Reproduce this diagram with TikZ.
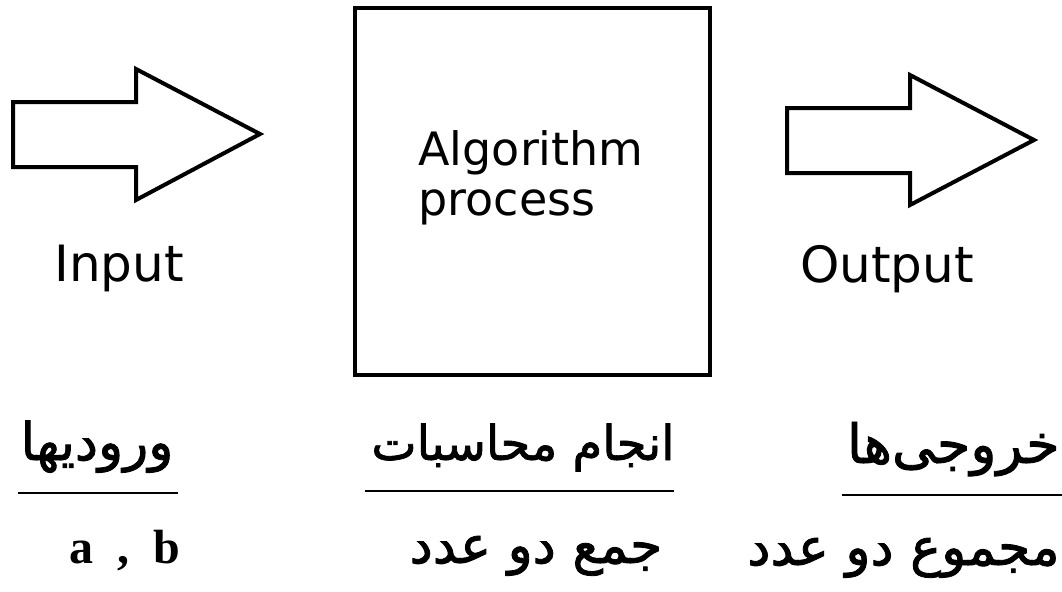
\documentclass[tikz,border=0pt]{standalone}
\usepackage{fontspec}
\setmainfont{DejaVu Sans}
\newfontfamily\arabicfont[Script=Arabic,FakeBold=1.6]{DejaVu Sans}
\newfontfamily\serifbold{Liberation Serif}
\TeXXeTstate=1

\tikzset{
  bigarrow/.style={draw=black, line width=2pt, line join=miter, fill=white},
  procbox/.style={draw=black, line width=2pt, minimum width=177.5pt, minimum height=183.5pt, inner sep=0pt},
  label/.style={font=\fontsize{25}{30}\selectfont, inner sep=0pt, anchor=base},
  boxtext/.style={font=\fontsize{23}{28}\selectfont, inner sep=0pt, anchor=base west},
  fa/.style={font=\fontsize{#1}{30}\selectfont\arabicfont, inner sep=0pt, anchor=base},
  fa/.default=26,
  rulebar/.style={draw=black, line width=1pt},
}

\begin{document}
\begin{tikzpicture}[x=0.5pt, y=-0.5pt]
  \useasboundingbox (0,0) rectangle (1062,591);

  % input arrow
  \draw[bigarrow] (13,102) -- (136,102) -- (136,69) -- (260,134)
    -- (136,200) -- (136,167) -- (13,167) -- cycle;
  \node[label] (inlbl) at (119,281) {Input};

  % process box
  \node[procbox] (proc) at (532.5,191.5) {};
  \node[boxtext] (alg1) at (418,165) {Algorithm};
  \node[boxtext] (alg2) at (418,215) {process};

  % output arrow
  \draw[bigarrow] (787,108) -- (910,108) -- (910,75) -- (1034,140)
    -- (910,205) -- (910,173) -- (787,173) -- cycle;
  \node[label] (outlbl) at (887,282) {Output};

  % captions under each stage
  \node[fa=26] (fain) at (97,460) {\beginR ورودیها\endR};
  \draw[rulebar] (18,493) -- (178,493);
  \node[label, font=\fontsize{24}{28}\selectfont\serifbold\bfseries] (ab) at (125,563) {a \ , \ b};

  \node[fa=24] (faproc) at (523,460) {\beginR انجام محاسبات\endR};
  \draw[rulebar] (365,491) -- (674,491);
  \node[fa=26] (fasum) at (536,563) {\beginR جمع دو عدد\endR};

  \node[fa=27, anchor=base east] (faout) at (1060,463) {\beginR خروجی‌ها\endR};
  \draw[rulebar] (842,495) -- (1062,495);
  \node[fa=26, anchor=base east] (faoutsum) at (1060,565) {\beginR مجموع دو عدد\endR};
\end{tikzpicture}
\end{document}
